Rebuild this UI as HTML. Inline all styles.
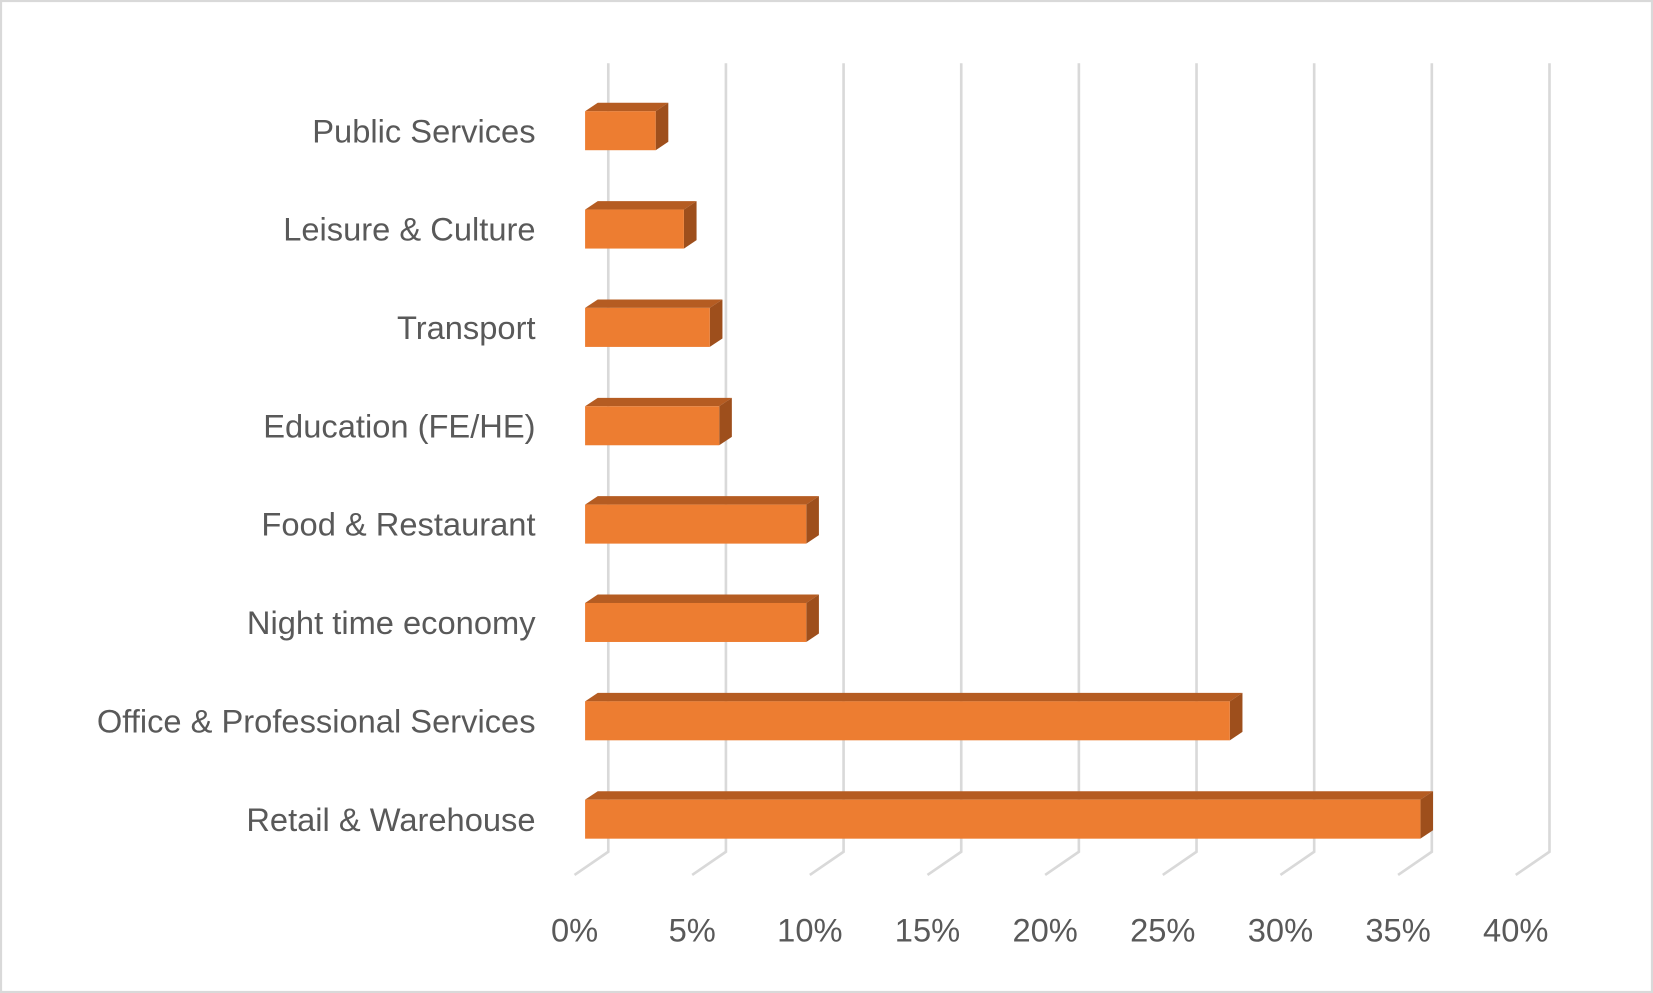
<!DOCTYPE html>
<html><head><meta charset="utf-8"><style>
html,body{margin:0;padding:0;background:#fff;}
svg{display:block;}
text{font-family:"Liberation Sans",sans-serif;fill:#595959;}
</style></head><body>
<svg id="chart" width="1653" height="993" viewBox="0 0 1568 942" preserveAspectRatio="none" xmlns="http://www.w3.org/2000/svg">
<rect x="1" y="1" width="1566" height="940" fill="#fff" stroke="#d9d9d9" stroke-width="2"/>
<g id="grid"></g><g id="bars"></g><g id="labels"></g><g id="ticks"></g>
</svg>
<script>
const categories=["Public Services","Leisure & Culture","Transport","Education (FE/HE)","Food & Restaurant","Night time economy","Office & Professional Services","Retail & Warehouse"];
const values=[3.0,4.2,5.3,5.7,9.4,9.4,27.4,35.5];
const tickValues=[0,5,10,15,20,25,30,35,40];
const tickLabels=["0%","5%","10%","15%","20%","25%","30%","35%","40%"];
const NS="http://www.w3.org/2000/svg";
const x0=555, pxPer=111.6/5, depth=12, rise=8;
function xFront(v){return x0+v*pxPer;}
function yCenter(i){return 124+i*93.3;}
function mk(tag,attrs,parent){const e=document.createElementNS(NS,tag);for(const k in attrs)e.setAttribute(k,attrs[k]);parent.appendChild(e);return e;}
const grid=document.getElementById('grid'),bars=document.getElementById('bars'),labels=document.getElementById('labels'),ticks=document.getElementById('ticks');
tickValues.forEach((t,i)=>{
  const bx=xFront(t)+22;
  const p=mk('polyline',{points:`${bx},60 ${bx},808 ${bx-32},830`,fill:'none',stroke:'#d9d9d9','stroke-width':2.5},grid);
  
  
  const tx=mk('text',{x:bx-32,y:893,'font-size':31,'text-anchor':'middle'},ticks);
  tx.textContent=tickLabels[i];
  
  
});
categories.forEach((c,i)=>{
  const yc=yCenter(i), y1=yc-18.5, y2=yc+18.5, xe=xFront(values[i]);
  const g=mk('g',{},bars);
  
  
  mk('polygon',{points:`${x0},${y1} ${x0+depth},${y1-rise} ${xe+depth},${y1-rise} ${xe},${y1}`,fill:'#b55c22'},g);
  mk('polygon',{points:`${xe},${y1} ${xe+depth},${y1-rise} ${xe+depth},${y2-rise} ${xe},${y2}`,fill:'#9e4f1c'},g);
  mk('rect',{x:x0,y:y1,width:xe-x0,height:y2-y1,fill:'#ed7d31'},g);
  const t=mk('text',{x:508,y:yc+11,'font-size':31,'text-anchor':'end'},labels);
  t.textContent=c;
  
  
});
</script>
</body></html>
